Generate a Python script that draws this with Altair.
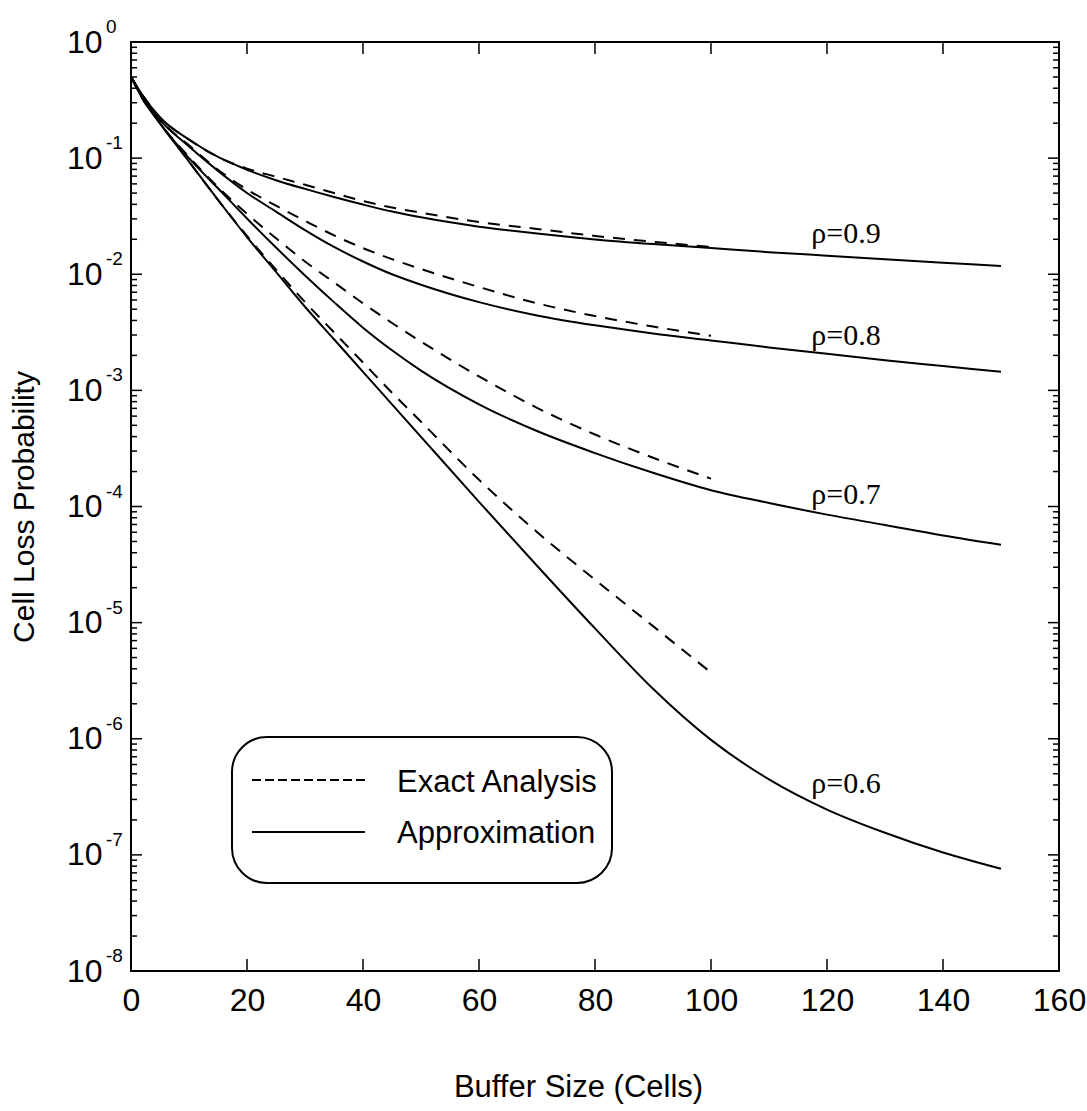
import altair as alt
import pandas as pd

buffer_exact = [0, 2, 5, 10, 15, 20, 25, 30, 35, 40, 45, 50, 60, 70, 80, 90, 100]
buffer_approx = [0, 2, 5, 10, 15, 20, 25, 30, 35, 40, 45, 50, 60, 70, 80, 90, 100,
                 110, 120, 130, 140, 150]

# log10(cell loss probability)
exact_rho09 = [-0.30, -0.46, -0.65, -0.84, -0.99, -1.09, -1.16, -1.23, -1.30, -1.37, -1.425, -1.47, -1.55, -1.61, -1.67, -1.72, -1.765]
exact_rho08 = [-0.30, -0.47, -0.67, -0.89, -1.10, -1.27, -1.41, -1.54, -1.665, -1.775, -1.87, -1.955, -2.11, -2.25, -2.36, -2.45, -2.53]
exact_rho07 = [-0.30, -0.48, -0.70, -0.99, -1.25, -1.48, -1.69, -1.89, -2.07, -2.25, -2.42, -2.58, -2.88, -3.15, -3.38, -3.58, -3.76]
exact_rho06 = [-0.30, -0.49, -0.70, -1.03, -1.36, -1.67, -1.96, -2.24, -2.50, -2.76, -3.02, -3.27, -3.77, -4.22, -4.63, -5.03, -5.43]

approx_rho09 = [-0.30, -0.46, -0.65, -0.84, -0.99, -1.10, -1.19, -1.265, -1.335, -1.40, -1.46, -1.51, -1.59, -1.65, -1.70, -1.74, -1.775, -1.81, -1.84, -1.87, -1.90, -1.93]
approx_rho08 = [-0.30, -0.47, -0.67, -0.90, -1.11, -1.30, -1.46, -1.62, -1.765, -1.89, -2.00, -2.09, -2.24, -2.355, -2.44, -2.51, -2.57, -2.63, -2.685, -2.74, -2.79, -2.84]
approx_rho07 = [-0.30, -0.48, -0.70, -1.00, -1.26, -1.52, -1.77, -2.01, -2.24, -2.46, -2.655, -2.83, -3.12, -3.35, -3.54, -3.71, -3.86, -3.97, -4.07, -4.16, -4.25, -4.33]
approx_rho06 = [-0.30, -0.49, -0.70, -1.03, -1.36, -1.68, -1.98, -2.28, -2.56, -2.84, -3.12, -3.40, -3.96, -4.51, -5.05, -5.57, -6.01, -6.35, -6.61, -6.81, -6.98, -7.12]

legend_labels = ["Exact Analysis", "Approximation"]

# curve labels
label_text = ["ρ=0.9", "ρ=0.8", "ρ=0.7", "ρ=0.6"]
label_x = [117.3, 117.3, 117.3, 117.3]
label_log = [-1.73, -2.61, -3.98, -6.47]

# axis ticks
x_tick_labels = [0, 20, 40, 60, 80, 100, 120, 140, 160]
x_inner_ticks = [20, 40, 60, 80, 100, 120, 140]
y_exponents = [0, -1, -2, -3, -4, -5, -6, -7, -8]
y_minor_mult = [2, 3, 4, 5, 6, 7, 8, 9]

W, H = 928, 929


def series_frame(entries):
    rows = []
    for name, xs, ys in entries:
        for xv, lv in zip(xs, ys):
            rows.append({"series": name, "x": xv, "p": 10 ** lv})
    return pd.DataFrame(rows)


exact_df = series_frame([
    ("rho=0.9", buffer_exact, exact_rho09),
    ("rho=0.8", buffer_exact, exact_rho08),
    ("rho=0.7", buffer_exact, exact_rho07),
    ("rho=0.6", buffer_exact, exact_rho06),
])
approx_df = series_frame([
    ("rho=0.9", buffer_approx, approx_rho09),
    ("rho=0.8", buffer_approx, approx_rho08),
    ("rho=0.7", buffer_approx, approx_rho07),
    ("rho=0.6", buffer_approx, approx_rho06),
])

labels_df = pd.DataFrame({"x": label_x, "p": [10 ** v for v in label_log], "t": label_text})
xt_df = pd.DataFrame({"x": x_inner_ticks})
major_df = pd.DataFrame({"p": [10.0 ** e for e in y_exponents], "e": [str(e) for e in y_exponents]})
minor_df = pd.DataFrame({"p": [m * 10.0 ** e for e in y_exponents[1:] for m in y_minor_mult]})
one_df = pd.DataFrame({"k": [0]})

FONT = "Liberation Sans"

x_enc = alt.X(
    "x:Q",
    scale=alt.Scale(domain=[0, 160], nice=False),
    axis=alt.Axis(
        values=x_tick_labels, ticks=False, domain=False, grid=False,
        labelFontSize=32, labelFont=FONT, labelColor="black", labelPadding=14,
        labelFlush=False,
        title="Buffer Size (Cells)", titleFontSize=31, titleFont=FONT,
        titleFontWeight="normal", titleColor="black", titlePadding=56,
        titleX=447, titleAlign="center", titleAnchor="start",
    ),
)
y_enc = alt.Y(
    "p:Q",
    scale=alt.Scale(type="log", domain=[1e-8, 1], nice=False),
    axis=alt.Axis(
        values=[10.0 ** e for e in y_exponents], labelExpr="'10'",
        ticks=False, domain=False, grid=False,
        labelFontSize=32, labelFont=FONT, labelColor="black", labelPadding=29,
        labelFlush=False,
        title="Cell Loss Probability", titleFontSize=30, titleFont=FONT,
        titleFontWeight="normal", titleColor="black", titlePadding=27,
    ),
)

exact_lines = alt.Chart(exact_df).mark_line(
    color="black", strokeWidth=2, interpolate="monotone", strokeDash=[12, 9]
).encode(x=x_enc, y=y_enc, detail="series:N")

approx_lines = alt.Chart(approx_df).mark_line(
    color="black", strokeWidth=2, interpolate="monotone"
).encode(x=x_enc, y=y_enc, detail="series:N")

tick_bottom = alt.Chart(xt_df).mark_rule(color="black", strokeWidth=1.5).encode(
    x=x_enc, y=alt.value(H), y2=alt.value(H - 12))
tick_top = alt.Chart(xt_df).mark_rule(color="black", strokeWidth=1.5).encode(
    x=x_enc, y=alt.value(0), y2=alt.value(12))
maj_left = alt.Chart(major_df).mark_rule(color="black", strokeWidth=1.5).encode(
    y=y_enc, x=alt.value(0), x2=alt.value(11))
maj_right = alt.Chart(major_df).mark_rule(color="black", strokeWidth=1.5).encode(
    y=y_enc, x=alt.value(W), x2=alt.value(W - 11))
min_left = alt.Chart(minor_df).mark_rule(color="black", strokeWidth=1.5).encode(
    y=y_enc, x=alt.value(0), x2=alt.value(6))
min_right = alt.Chart(minor_df).mark_rule(color="black", strokeWidth=1.5).encode(
    y=y_enc, x=alt.value(W), x2=alt.value(W - 6))

exps = alt.Chart(major_df).mark_text(
    font=FONT, fontSize=19, align="left", baseline="alphabetic", dy=-9, color="black"
).encode(y=y_enc, x=alt.value(-25), text="e:N")

rho = alt.Chart(labels_df).mark_text(
    font="Liberation Serif", fontSize=30, align="left", baseline="alphabetic", color="black"
).encode(x=x_enc, y=y_enc, text="t:N")

# legend box (rounded frame with line samples)
leg_box = alt.Chart(one_df).mark_rect(
    fill="white", stroke="black", strokeWidth=2, cornerRadius=35
).encode(x=alt.value(101), x2=alt.value(481), y=alt.value(695), y2=alt.value(841))
leg_dash = alt.Chart(one_df).mark_rule(color="black", strokeWidth=2, strokeDash=[9, 4]).encode(
    x=alt.value(121), x2=alt.value(234), y=alt.value(738))
leg_solid = alt.Chart(one_df).mark_rule(color="black", strokeWidth=2).encode(
    x=alt.value(121), x2=alt.value(234), y=alt.value(790))
leg_t1 = alt.Chart(one_df).mark_text(
    font=FONT, fontSize=31, align="left", baseline="alphabetic", color="black"
).encode(x=alt.value(266), y=alt.value(750), text=alt.value(legend_labels[0]))
leg_t2 = alt.Chart(one_df).mark_text(
    font=FONT, fontSize=31, align="left", baseline="alphabetic", color="black"
).encode(x=alt.value(266), y=alt.value(801), text=alt.value(legend_labels[1]))

chart = alt.layer(
    exact_lines, approx_lines, tick_bottom, tick_top, maj_left, maj_right,
    min_left, min_right, exps, rho, leg_box, leg_dash, leg_solid, leg_t1, leg_t2
).properties(
    width=W, height=H,
    autosize=alt.AutoSizeParams(type="none"),
    padding={"left": 131, "top": 42, "right": 28, "bottom": 140},
    background="white",
).configure_view(stroke="black", strokeWidth=2)

chart.save("out.html", embed_options={"renderer": "svg", "actions": False})
